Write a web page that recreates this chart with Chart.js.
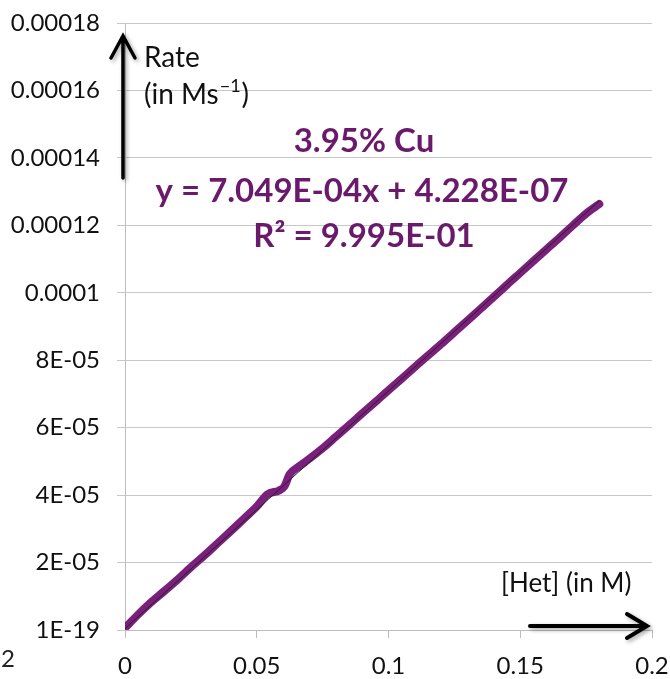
<!DOCTYPE html>
<html>
<head>
<meta charset="utf-8">
<script src="https://cdn.jsdelivr.net/npm/chart.js@4/dist/chart.umd.min.js"></script>
<style>
  html, body { margin: 0; padding: 0; background: #ffffff; }
  #wrap { width: 670px; height: 679px; position: relative; }
</style>
</head>
<body>
<div id="wrap"><canvas id="c" width="670" height="679"></canvas></div>
<script>
// Heterocycle concentration (M) and measured rate (M/s), 3.95% Cu catalyst
const hetConc = [0, 0.005, 0.01, 0.015, 0.02, 0.025, 0.03, 0.035, 0.04, 0.045, 0.05,
  0.054, 0.0585, 0.0605, 0.0625, 0.066, 0.07, 0.075, 0.08, 0.085, 0.09, 0.095, 0.1,
  0.105, 0.11, 0.115, 0.12, 0.125, 0.13, 0.135, 0.14, 0.145, 0.15, 0.155, 0.16,
  0.165, 0.17, 0.175, 0.18];
const rate = [0.6e-6, 4.6e-6, 8.3e-6, 11.6e-6, 15.0e-6, 18.6e-6, 22.0e-6, 25.6e-6, 29.2e-6,
  32.9e-6, 36.6e-6, 40.2e-6, 41.4e-6, 42.6e-6, 46.2e-6, 48.5e-6, 50.8e-6, 53.9e-6,
  57.3e-6, 60.7e-6, 64.2e-6, 67.6e-6, 71.1e-6, 74.5e-6, 78.0e-6, 81.4e-6, 84.8e-6,
  88.3e-6, 91.8e-6, 95.3e-6, 98.8e-6, 102.4e-6, 105.9e-6, 109.4e-6, 112.9e-6,
  116.4e-6, 120.0e-6, 123.5e-6, 126.3e-6];

// Linear fit reported on the chart
const fitSlope = 7.049e-4;
const fitIntercept = 4.228e-7;
const fitRange = [0, 0.18];

// Axis ticks and their printed labels
const xTickValues = [0, 0.05, 0.1, 0.15, 0.2];
const xTickLabels = ['0', '0.05', '0.1', '0.15', '0.2'];
const yTickValues = [0, 0.00002, 0.00004, 0.00006, 0.00008, 0.0001, 0.00012, 0.00014, 0.00016, 0.00018];
const yTickLabels = ['1E-19', '2E-05', '4E-05', '6E-05', '8E-05', '0.0001', '0.00012', '0.00014', '0.00016', '0.00018'];

const seriesTitle = '3.95% Cu';
const fitLabel = 'y = 7.049E-04x + 4.228E-07';
const r2Label = 'R\u00B2 = 9.995E-01';

const purple = '#7b1f7c';
const labelPurple = '#6a1a6a';

const rateData = hetConc.map((x, i) => ({ x: x, y: rate[i] }));
const fitData = fitRange.map(x => ({ x: x, y: fitSlope * x + fitIntercept }));

function arrow(ctx, x1, y1, x2, y2, head, halfW, width) {
  const ang = Math.atan2(y2 - y1, x2 - x1);
  ctx.save();
  ctx.strokeStyle = '#000';
  ctx.lineWidth = width;
  ctx.lineCap = 'round';
  ctx.lineJoin = 'miter';
  ctx.shadowColor = 'rgba(0,0,0,0.35)';
  ctx.shadowBlur = 4;
  ctx.shadowOffsetX = 2;
  ctx.shadowOffsetY = 2;
  ctx.beginPath();
  ctx.moveTo(x1, y1);
  ctx.lineTo(x2, y2);
  const bx = x2 - head * Math.cos(ang), by = y2 - head * Math.sin(ang);
  const px = -Math.sin(ang) * halfW, py = Math.cos(ang) * halfW;
  ctx.moveTo(bx + px, by + py);
  ctx.lineTo(x2, y2);
  ctx.lineTo(bx - px, by - py);
  ctx.stroke();
  ctx.restore();
}

const annotations = {
  id: 'annotations',
  afterDatasetsDraw(chart) {
    const ctx = chart.ctx;
    const ca = chart.chartArea;
    ctx.save();

    // Fit caption
    ctx.fillStyle = labelPurple;
    ctx.textAlign = 'center';
    ctx.textBaseline = 'alphabetic';
    ctx.font = 'bold 33px Lato';
    ctx.fillText(seriesTitle, 364, 152);
    ctx.fillText(fitLabel, 362, 202);
    ctx.fillText(r2Label, 364, 247);

    // Axis name labels
    ctx.fillStyle = '#111';
    ctx.textAlign = 'left';
    ctx.font = '28px Lato';
    ctx.fillText('Rate', 144, 67);
    let x = 144;
    const part1 = '(in Ms';
    ctx.fillText(part1, x, 104);
    x += ctx.measureText(part1).width;
    ctx.font = '18px Lato';
    ctx.fillText('\u22121', x + 1, 92);
    x += ctx.measureText('\u22121').width + 2;
    ctx.font = '28px Lato';
    ctx.fillText(')', x, 104);

    ctx.font = '26px Lato';
    ctx.fillText('[Het] (in M)', 501, 592);

    // Neighbouring axis label clipped at the left edge
    ctx.fillStyle = '#222';
    ctx.textAlign = 'right';
    ctx.font = '24px Lato';
    ctx.fillText('0.2', 15, 667);
    ctx.restore();

    arrow(ctx, ca.left - 2, 178, ca.left - 2, 36, 22, 12, 3.5);
    arrow(ctx, 530, 626, 647, 626, 20, 12, 4);
  }
};

new Chart(document.getElementById('c'), {
  type: 'scatter',
  data: {
    datasets: [
      {
        label: 'Linear fit',
        data: fitData,
        showLine: true,
        borderColor: '#222222',
        borderWidth: 1,
        pointRadius: 0,
        fill: false
      },
      {
        label: seriesTitle,
        data: rateData,
        showLine: true,
        borderColor: purple,
        borderWidth: 8,
        borderCapStyle: 'round',
        borderJoinStyle: 'round',
        cubicInterpolationMode: 'monotone',
        pointRadius: 0,
        fill: false
      }
    ]
  },
  options: {
    responsive: false,
    animation: false,
    devicePixelRatio: 1,
    layout: { padding: { top: 23, right: 18, left: 0, bottom: 0 } },
    plugins: {
      legend: { display: false },
      tooltip: { enabled: false }
    },
    scales: {
      x: {
        type: 'linear',
        min: 0,
        max: 0.2,
        afterBuildTicks: s => { s.ticks = xTickValues.map(v => ({ value: v })); },
        afterFit: s => { s.height = 49; s.paddingLeft = 0; s.paddingRight = 0; },
        ticks: {
          callback: (v, i) => xTickLabels[i],
          font: { family: 'Lato', size: 24 },
          color: '#111',
          padding: 14,
          maxRotation: 0,
          autoSkip: false
        },
        grid: {
          drawOnChartArea: false,
          drawTicks: true,
          tickLength: 8,
          color: '#bdbdbd'
        },
        border: { color: '#bdbdbd' }
      },
      y: {
        type: 'linear',
        min: 0,
        max: 0.00018,
        afterBuildTicks: s => { s.ticks = yTickValues.map(v => ({ value: v })); },
        afterFit: s => { s.width = 125; s.paddingTop = 0; s.paddingBottom = 0; },
        ticks: {
          callback: (v, i) => yTickLabels[i],
          font: { family: 'Lato', size: 24 },
          color: '#111',
          padding: 17,
          autoSkip: false
        },
        grid: {
          color: '#c8c8c8',
          tickLength: 8
        },
        border: { color: '#bdbdbd' }
      }
    }
  },
  plugins: [annotations]
});
</script>
</body>
</html>
